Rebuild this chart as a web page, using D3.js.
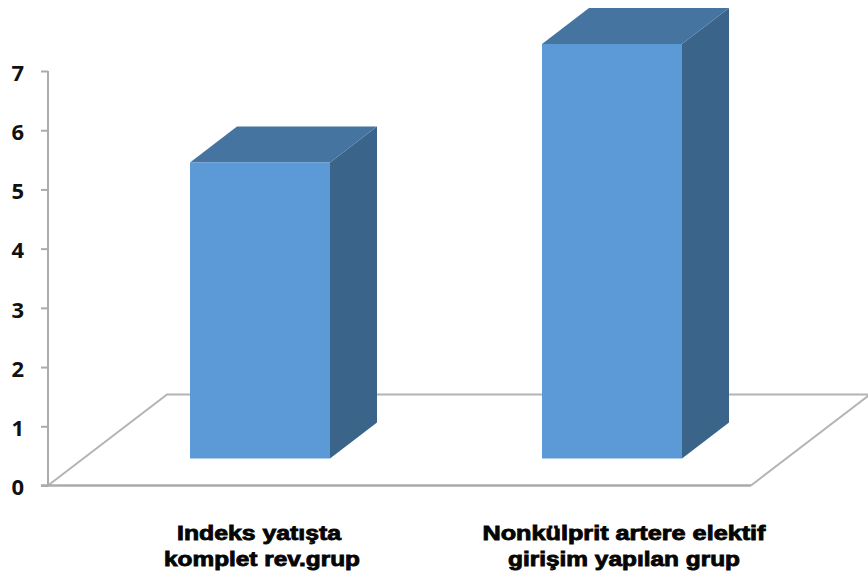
<!DOCTYPE html>
<html>
<head>
<meta charset="utf-8">
<script src="https://cdn.jsdelivr.net/npm/d3@7"></script>
<style>
  html, body { margin: 0; padding: 0; background: #fff; }
  svg { display: block; }
  .cat { font-family: "Liberation Sans", sans-serif; font-weight: 700; font-size: 20px; fill: #050505; stroke: #050505; stroke-width: 0.85px; }
  .tick text { font-family: "Open Sans", sans-serif; font-weight: 700; font-size: 22px; fill: #111; }
</style>
</head>
<body>
<svg id="chart" width="868" height="573"></svg>
<script>
// Values and labels of the two patient groups
const categories = ["Indeks yatışta komplet rev.grup", "Nonkülprit artere elektif girişim yapılan grup"];
const values = [5, 7];
const yTicks = [0, 1, 2, 3, 4, 5, 6, 7];
const labelLines = [["Indeks yatışta", "komplet rev.grup"], ["Nonkülprit artere elektif", "girişim yapılan grup"]];
const labelCentres = [[259, 262], [624, 624]];
const labelWidths = [[164, 196], [283, 232]];

const svg = d3.select("#chart");

const y = d3.scaleLinear().domain([0, 7]).range([485.5, 71]);
const x = d3.scaleBand().domain(categories).range([190, 682]).paddingInner(0.6023).paddingOuter(0).align(0);

// Oblique projection: the floor and the bar depth recede up and to the right
const floorDepth = { dx: 119, dy: -91 };
const barDepth = { dx: 47, dy: -36 };
const barLift = 27;
const axisX = 48;
const floorRight = 751;
const axisColor = "#ababab";

// Floor outline
const floor = svg.append("g").attr("fill", "none").attr("stroke", "#b4b4b4").attr("stroke-width", 2);
floor.append("path").attr("d", d3.line()([
  [axisX, y(0)],
  [axisX + floorDepth.dx, y(0) + floorDepth.dy],
  [floorRight + floorDepth.dx, y(0) + floorDepth.dy],
  [floorRight, y(0)]
]));

// Vertical axis
const axis = svg.append("g")
  .attr("transform", `translate(${axisX},0)`)
  .call(d3.axisLeft(y).tickValues(yTicks).tickFormat(d3.format("d")).tickSize(7).tickPadding(17));
axis.selectAll("path, line").attr("stroke", axisColor).attr("stroke-width", 2);
axis.select(".domain").attr("d", `M0,${y(7)}V${y(0)}`);
axis.selectAll(".tick text").attr("dy", "0.42em");

// Front edge of the floor
svg.append("line")
  .attr("x1", 41).attr("x2", floorRight)
  .attr("y1", y(0)).attr("y2", y(0))
  .attr("stroke", axisColor).attr("stroke-width", 2.5);

// Bars: side, top, then front face
const bars = svg.append("g").selectAll("g").data(categories).join("g");
const w = x.bandwidth();

bars.append("path").attr("fill", "#3a6489").attr("d", (c, i) => {
  const l = x(c) + w, top = y(values[i]) - barLift, base = y(0) - barLift;
  return d3.line()([[l, top], [l + barDepth.dx, top + barDepth.dy], [l + barDepth.dx, base + barDepth.dy], [l, base]]) + "Z";
});
bars.append("path").attr("fill", "#4674a1").attr("d", (c, i) => {
  const l = x(c), top = y(values[i]) - barLift;
  return d3.line()([[l, top], [l + barDepth.dx, top + barDepth.dy], [l + w + barDepth.dx, top + barDepth.dy], [l + w, top]]) + "Z";
});
bars.append("rect").attr("fill", "#5b9ad6")
  .attr("x", c => x(c))
  .attr("width", w)
  .attr("y", (c, i) => y(values[i]) - barLift)
  .attr("height", (c, i) => y(0) - y(values[i]));

// Two-line category labels
labelLines.forEach((lines, i) => {
  lines.forEach((line, j) => {
    svg.append("text").attr("class", "cat")
      .attr("x", labelCentres[i][j])
      .attr("y", 540 + j * 25.5)
      .attr("text-anchor", "middle")
      .attr("textLength", labelWidths[i][j])
      .attr("lengthAdjust", "spacingAndGlyphs")
      .text(line);
  });
});
</script>
</body>
</html>
